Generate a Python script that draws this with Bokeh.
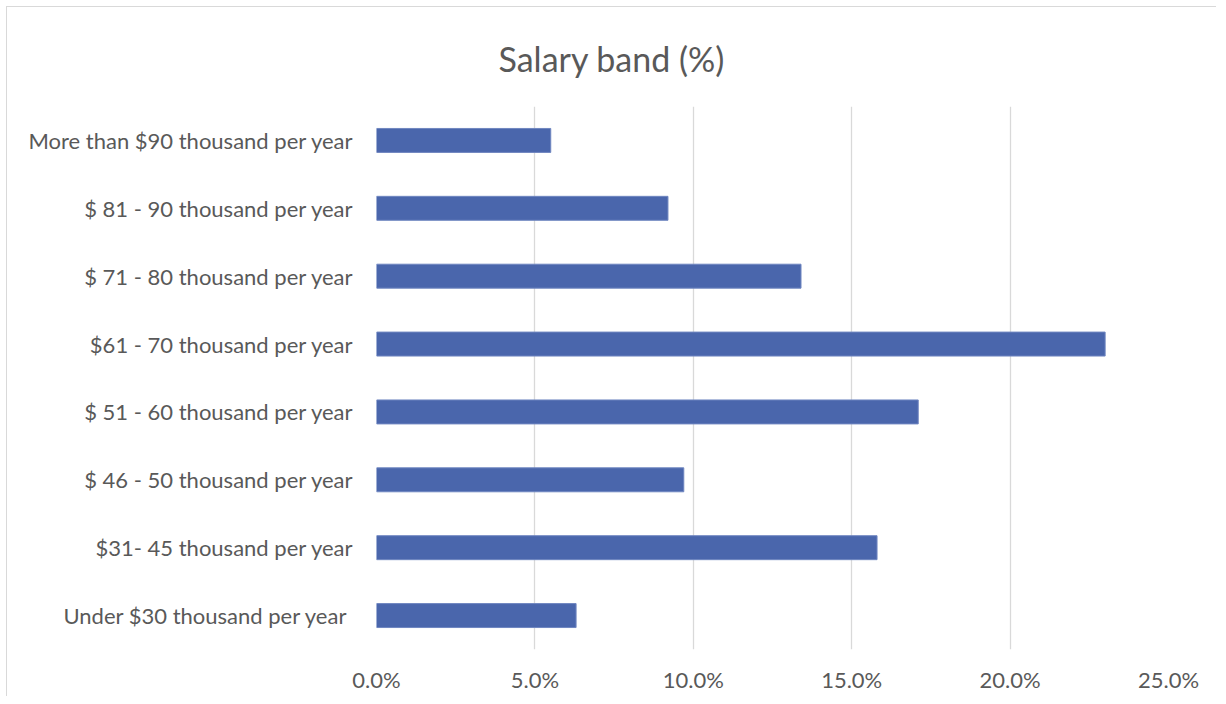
from bokeh.plotting import figure
from bokeh.models import PrintfTickFormatter, FixedTicker, Range1d
from bokeh.embed import file_html
from bokeh.resources import INLINE

title_text = "Salary band (%)"
categories = [
    "Under $30  thousand per year",
    "$31- 45 thousand per year",
    "$ 46 - 50 thousand per year",
    "$ 51 - 60 thousand per year",
    "$61 - 70 thousand per year",
    "$ 71 - 80 thousand per year",
    "$ 81 - 90 thousand per year",
    "More than $90 thousand per year",
]
values = [6.3, 15.8, 9.7, 17.1, 23.0, 13.4, 9.2, 5.5]
x_ticks = [0, 5, 10, 15, 20, 25]

FONT = "Lato"
GREY = "#595959"

p = figure(
    width=1210, height=690,
    y_range=categories,
    x_range=Range1d(0, 25),
    output_backend="svg", toolbar_location=None,
    min_border_left=369, min_border_right=49,
    min_border_top=99, min_border_bottom=48,
    title=title_text,
)
p.styles = {"margin": "6px 0 0 6px",
            "border-top": "1px solid #d9d9d9", "border-left": "1px solid #d9d9d9"}

p.hbar(y=categories, right=values, left=0, height=0.353,
       fill_color="#4a66ac", line_color="#6f86c0", line_width=1)

p.title.align = "left"
p.title.offset = 122
p.title.standoff = 56
p.title.text_font = FONT
p.title.text_font_size = "34px"
p.title.text_font_style = "normal"
p.title.text_color = GREY

p.outline_line_color = None
p.ygrid.grid_line_color = None
p.xgrid.grid_line_color = "#d9d9d9"
p.xgrid.grid_line_width = 1.3
p.xaxis.ticker = FixedTicker(ticks=x_ticks)
p.xaxis.formatter = PrintfTickFormatter(format="%.1f%%")
p.xaxis.axis_line_color = None
p.xaxis.major_tick_line_color = None
p.xaxis.minor_tick_line_color = None
p.xaxis.major_label_standoff = 10
p.xaxis.major_label_text_font = FONT
p.xaxis.major_label_text_font_size = "22px"
p.xaxis.major_label_text_color = GREY

p.yaxis.axis_line_color = None
p.yaxis.major_tick_line_color = None
p.yaxis.minor_tick_line_color = None
p.yaxis.major_label_standoff = 17
p.yaxis.major_label_text_font = FONT
p.yaxis.major_label_text_font_size = "22px"
p.yaxis.major_label_text_color = GREY

open("out.html", "w").write(file_html(p, INLINE))
